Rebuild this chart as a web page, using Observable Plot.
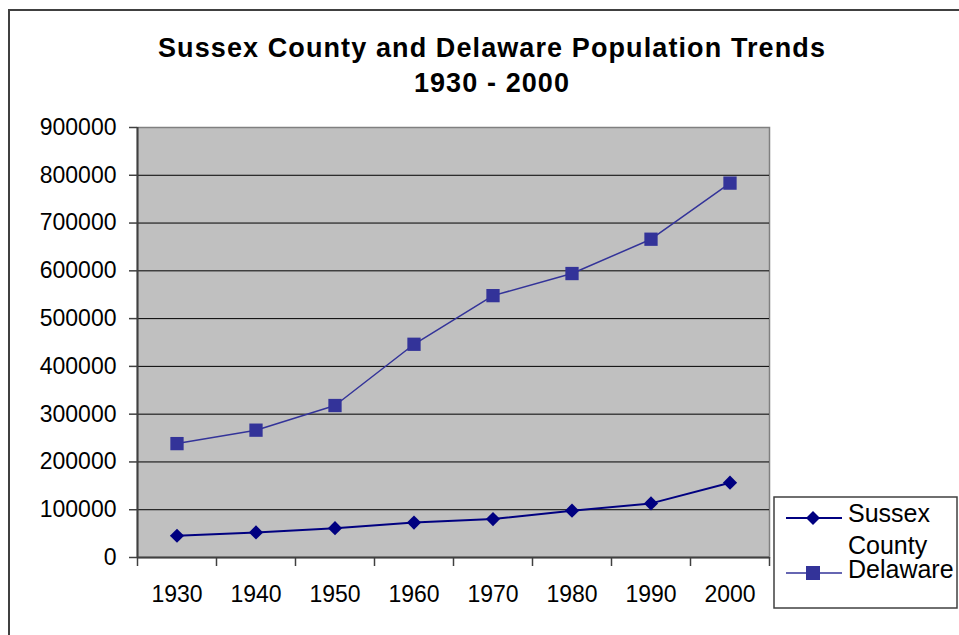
<!DOCTYPE html>
<html>
<head>
<meta charset="utf-8">
<script src="https://cdn.jsdelivr.net/npm/d3@7"></script>
<script src="https://cdn.jsdelivr.net/npm/@observablehq/plot@0.6"></script>
<style>
  html, body { margin: 0; padding: 0; background: #fff; }
  #wrap { position: relative; width: 959px; height: 635px; overflow: hidden; font-family: "Liberation Sans", Arial, sans-serif; }
  #chart { position: absolute; left: 0; top: 0; }
  #overlay { position: absolute; left: 0; top: 0; pointer-events: none; }
</style>
</head>
<body>
<div id="wrap">
  <div id="chart"></div>
  <svg id="overlay" width="959" height="635" xmlns="http://www.w3.org/2000/svg"></svg>
</div>
<script>
// ---- data ----
const years = [1930, 1940, 1950, 1960, 1970, 1980, 1990, 2000];
const sussexCounty = [45507, 52502, 61336, 73195, 80356, 98004, 113229, 156638];
const delaware = [238380, 266505, 318085, 446292, 548104, 594338, 666168, 783600];
const yTicks = [0, 100000, 200000, 300000, 400000, 500000, 600000, 700000, 800000, 900000];
const seriesNames = ["Sussex County", "Delaware"];
const titleLines = ["Sussex County and Delaware Population Trends", "1930 - 2000"];

const sussexRows = years.map((year, i) => ({year, value: sussexCounty[i]}));
const delawareRows = years.map((year, i) => ({year, value: delaware[i]}));
const step = years[1] - years[0];
const boundaries = [years[0] - step / 2, ...years.map(y => y + step / 2)];

const colSussex = "#000080";
const colDelaware = "#333399";

const chart = Plot.plot({
  width: 959,
  height: 635,
  marginLeft: 137,
  marginRight: 190,
  marginTop: 127,
  marginBottom: 78,
  style: {fontFamily: '"Liberation Sans", Arial, sans-serif', fontSize: "23px", background: "transparent", color: "#000", overflow: "visible"},
  x: {type: "linear", domain: [boundaries[0], boundaries[boundaries.length - 1]], label: null},
  y: {domain: [yTicks[0], yTicks[yTicks.length - 1]], label: null},
  marks: [
    Plot.frame({fill: "#c0c0c0", stroke: "#808080", strokeWidth: 1.5}),
    Plot.ruleY(yTicks.slice(1, -1), {stroke: "#000", strokeWidth: 1}),
    Plot.axisY({ticks: yTicks, tickSize: 8, tickPadding: 13, tickFormat: d3.format("d"), stroke: "#404040", strokeWidth: 1.5, fill: "#000", fontSize: 23, label: null, letterSpacing: 0.5}),
    Plot.axisX({ticks: boundaries, tickSize: 9, tickFormat: () => "", stroke: "#404040", strokeWidth: 1.5, label: null}),
    Plot.axisX({ticks: years, tickSize: 0, tickPadding: 28, tickFormat: d3.format("d"), fill: "#000", fontSize: 23, label: null}),
    Plot.ruleX([boundaries[0]], {stroke: "#404040", strokeWidth: 2}),
    Plot.ruleY([yTicks[0]], {stroke: "#404040", strokeWidth: 2}),
    Plot.line(delawareRows, {x: "year", y: "value", stroke: colDelaware, strokeWidth: 1.5}),
    Plot.dot(delawareRows, {x: "year", y: "value", symbol: "square", r: 7.5, fill: colDelaware, stroke: "none"}),
    Plot.line(sussexRows, {x: "year", y: "value", stroke: colSussex, strokeWidth: 2}),
    Plot.dot(sussexRows, {x: "year", y: "value", symbol: "diamond2", r: 6.4, fill: colSussex, stroke: "none"})
  ]
});
document.getElementById("chart").appendChild(chart);

// ---- decoration: outer border, title, legend ----
const ov = d3.select("#overlay");
ov.append("path").attr("d", "M9,640 L9,10 L965,10").attr("fill", "none").attr("stroke", "#404040").attr("stroke-width", 2);

ov.selectAll("text.title").data(titleLines).join("text")
  .attr("class", "title")
  .attr("x", 492).attr("y", (d, i) => i === 0 ? 57 : 92)
  .attr("text-anchor", "middle")
  .attr("font-family", '"Liberation Sans", Arial, sans-serif')
  .attr("font-weight", "bold").attr("font-size", 27)
  .attr("letter-spacing", 1.1)
  .text(d => d);

// legend box
ov.append("rect").attr("x", 774).attr("y", 497).attr("width", 183).attr("height", 111)
  .attr("fill", "#fff").attr("stroke", "#404040").attr("stroke-width", 1.5);

const lg = ov.append("g").attr("font-family", '"Liberation Sans", Arial, sans-serif').attr("font-size", 25);
// Sussex County entry
lg.append("line").attr("x1", 786).attr("x2", 842).attr("y1", 518).attr("y2", 518).attr("stroke", colSussex).attr("stroke-width", 2);
lg.append("path").attr("d", "M813,511 L820,518 L813,525 L806,518 Z").attr("fill", colSussex);
const t1 = lg.append("text").attr("x", 848).attr("y", 522);
t1.append("tspan").attr("x", 848).attr("y", 522).text(seriesNames[0].split(" ")[0]);
t1.append("tspan").attr("x", 848).attr("y", 554).text(seriesNames[0].split(" ")[1]);
// Delaware entry
lg.append("line").attr("x1", 786).attr("x2", 842).attr("y1", 573).attr("y2", 573).attr("stroke", colDelaware).attr("stroke-width", 1.5);
lg.append("rect").attr("x", 806).attr("y", 566).attr("width", 14).attr("height", 14).attr("fill", colDelaware);
lg.append("text").attr("x", 848).attr("y", 578).text(seriesNames[1]);
</script>
</body>
</html>
